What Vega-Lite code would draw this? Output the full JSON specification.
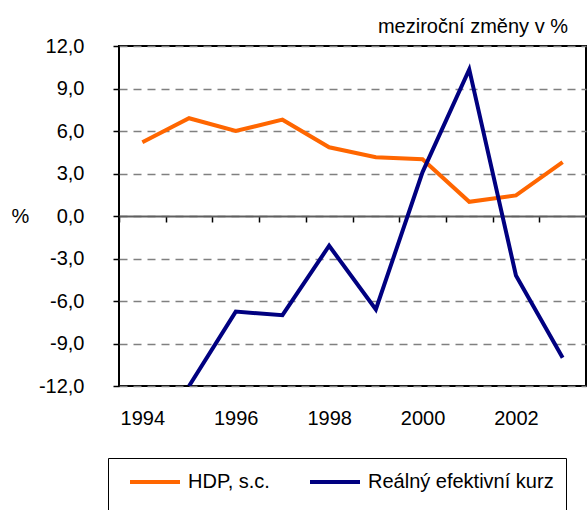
{
  "$schema": "https://vega.github.io/schema/vega-lite/v6.json",
  "width": 467,
  "height": 340,
  "autosize": {"type": "none"},
  "padding": {"left": 119, "top": 46, "right": 1, "bottom": 124},
  "background": "white",
  "config": {
    "font": "Liberation Sans",
    "view": {"stroke": "#000000", "strokeWidth": 2},
    "axis": {"labelFont": "Liberation Sans", "titleFont": "Liberation Sans", "labelColor": "#000", "titleColor": "#000"}
  },
  "title": {
    "text": "meziroční změny v %",
    "anchor": "end",
    "frame": "group",
    "dx": -18,
    "dy": 30,
    "offset": 9,
    "baseline": "bottom",
    "fontSize": 20,
    "fontWeight": "normal",
    "font": "Liberation Sans",
    "color": "#000"
  },
  "data": {
    "values": [
      {"year": 1994, "series": "HDP, s.c.", "value": 5.2},
      {"year": 1995, "series": "HDP, s.c.", "value": 6.9},
      {"year": 1996, "series": "HDP, s.c.", "value": 6.0},
      {"year": 1997, "series": "HDP, s.c.", "value": 6.8},
      {"year": 1998, "series": "HDP, s.c.", "value": 4.85},
      {"year": 1999, "series": "HDP, s.c.", "value": 4.15},
      {"year": 2000, "series": "HDP, s.c.", "value": 4.0},
      {"year": 2001, "series": "HDP, s.c.", "value": 1.0},
      {"year": 2002, "series": "HDP, s.c.", "value": 1.45},
      {"year": 2003, "series": "HDP, s.c.", "value": 3.8},
      {"year": 1995, "series": "Reálný efektivní kurz", "value": -12.0},
      {"year": 1996, "series": "Reálný efektivní kurz", "value": -6.75},
      {"year": 1997, "series": "Reálný efektivní kurz", "value": -7.0},
      {"year": 1998, "series": "Reálný efektivní kurz", "value": -2.1},
      {"year": 1999, "series": "Reálný efektivní kurz", "value": -6.6},
      {"year": 2000, "series": "Reálný efektivní kurz", "value": 3.1},
      {"year": 2001, "series": "Reálný efektivní kurz", "value": 10.35},
      {"year": 2002, "series": "Reálný efektivní kurz", "value": -4.2},
      {"year": 2003, "series": "Reálný efektivní kurz", "value": -10.0}
    ]
  },
  "mark": {"type": "line", "strokeWidth": 4, "clip": true, "strokeJoin": "miter"},
  "encoding": {
    "x": {
      "field": "year",
      "type": "ordinal",
      "bandPosition": 0.5,
      "scale": {"type": "band", "paddingInner": 0, "paddingOuter": 0},
      "axis": {
        "title": null,
        "orient": "bottom",
        "offset": -170,
        "labelAngle": 0,
        "labelFontSize": 20,
        "labelPadding": 186,
        "labelExpr": "datum.value % 2 === 0 ? datum.label : ''",
        "tickBand": "extent",
        "tickSize": 6,
        "tickColor": "#000",
        "tickWidth": 1.5,
        "domainColor": "#606060",
        "domainWidth": 2,
        "grid": false,
        "zindex": 0
      }
    },
    "y": {
      "field": "value",
      "type": "quantitative",
      "scale": {"domain": [-12, 12], "nice": false, "zero": false},
      "axis": {
        "values": [-12, -9, -6, -3, 0, 3, 6, 9, 12],
        "labelExpr": "(datum.value < 0 ? '-' : '') + replace(format(abs(datum.value), '.1f'), '.', ',')",
        "labelFontSize": 20,
        "labelPadding": 29,
        "tickSize": 6,
        "tickColor": "#000",
        "tickWidth": 1.5,
        "domain": false,
        "grid": true,
        "gridDash": [8, 6],
        "gridColor": "#808080",
        "gridWidth": 1.5,
        "title": "%",
        "titleAngle": 0,
        "titleFontSize": 20,
        "titleFontWeight": "normal",
        "titleAlign": "center",
        "titleBaseline": "middle",
        "titleX": -99,
        "titleY": 170
      }
    },
    "color": {
      "field": "series",
      "type": "nominal",
      "scale": {"domain": ["HDP, s.c.", "Reálný efektivní kurz"], "range": ["#FF6600", "#000080"]},
      "legend": {
        "title": "\u00a0\u00a0\u00a0\u00a0\u00a0\u00a0\u00a0\u00a0\u00a0\u00a0\u00a0\u00a0\u00a0\u00a0\u00a0\u00a0\u00a0\u00a0\u00a0\u00a0\u00a0\u00a0\u00a0\u00a0\u00a0\u00a0\u00a0\u00a0\u00a0\u00a0\u00a0\u00a0\u00a0\u00a0\u00a0\u00a0\u00a0\u00a0\u00a0\u00a0\u00a0",
        "titleOrient": "bottom",
        "titleFontSize": 40,
        "titleLimit": 2000,
        "titlePadding": 10,
        "orient": "none",
        "legendX": -11,
        "legendY": 412,
        "direction": "horizontal",
        "strokeColor": "#000",
        "padding": 12,
        "symbolType": "M-2.5,0H2.5",
        "symbolSize": 400,
        "symbolStrokeWidth": 4,
        "symbolOffset": 23,
        "labelFontSize": 20,
        "labelFont": "Liberation Sans",
        "labelColor": "#000",
        "labelOffset": 21,
        "columnPadding": 30,
        "labelLimit": 400
      }
    }
  }
}
